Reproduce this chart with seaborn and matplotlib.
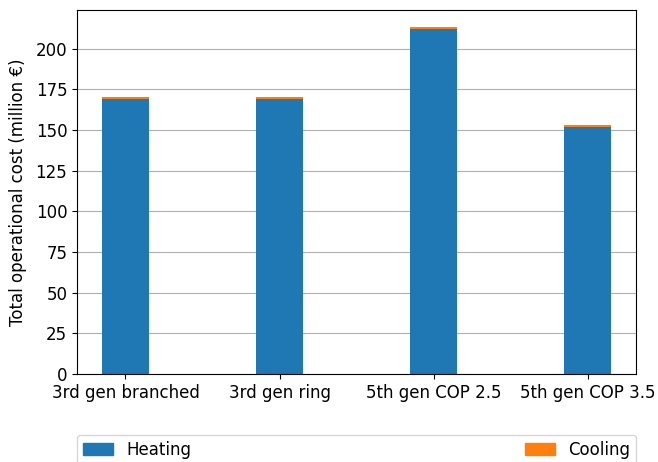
import matplotlib
matplotlib.use("Agg")
import matplotlib.pyplot as plt
import matplotlib.patches as mpatches
import seaborn as sns
import pandas as pd

# Operational cost per network configuration (million €)
scenarios = ["3rd gen branched", "3rd gen ring", "5th gen COP 2.5", "5th gen COP 3.5"]
heating = [168.8, 168.8, 212.2, 151.6]
cooling = [1.2, 1.2, 1.0, 1.2]

sns.set_style("white")
plt.rcParams["font.family"] = ["DejaVu Sans"]
plt.rcParams["text.color"] = "black"
plt.rcParams["axes.labelcolor"] = "black"
plt.rcParams["xtick.color"] = "black"
plt.rcParams["ytick.color"] = "black"

df = pd.DataFrame({"scenario": scenarios, "heating": heating, "cooling": cooling})

fig = plt.figure(figsize=(6.58, 4.62), dpi=100)
ax = fig.add_axes([0.117, 0.1905, 0.8496, 0.7875])

blue = "#1f77b4"
orange = "#ff7f0e"

sns.barplot(data=df, x="scenario", y="heating", color=blue, width=0.3,
            saturation=1, linewidth=0, ax=ax, zorder=2)
sns.barplot(data=df, x="scenario", y="cooling", color=orange, width=0.3,
            saturation=1, linewidth=0, bottom=df["heating"], ax=ax, zorder=2)

ax.set_xlim(-0.315, 3.315)
ax.set_ylim(0, 223.6)
ax.set_yticks(range(0, 201, 25))
ax.set_xlabel("")
ax.set_ylabel("Total operational cost (million €)", fontsize=12, labelpad=6)
ax.tick_params(axis="both", labelsize=12, length=3.5, width=0.8, color="black",
               left=True, bottom=True, direction="out")
ax.yaxis.grid(True, color="#b0b0b0", linewidth=0.8, zorder=0)
ax.xaxis.grid(False)
ax.set_axisbelow(True)
for s in ax.spines.values():
    s.set_visible(True)
    s.set_color("black")
    s.set_linewidth(0.8)

handles = [mpatches.Patch(color=blue, label="Heating"),
           mpatches.Patch(color=orange, label="Cooling")]
ax.legend(handles=handles, loc="upper left", bbox_to_anchor=(0, -0.1676, 1, 0),
          mode="expand", ncol=2, borderaxespad=0, fontsize=12, frameon=True,
          edgecolor="#cccccc", fancybox=True, handlelength=1.8,
          borderpad=0.35)

fig.savefig("out.png", dpi=100)
